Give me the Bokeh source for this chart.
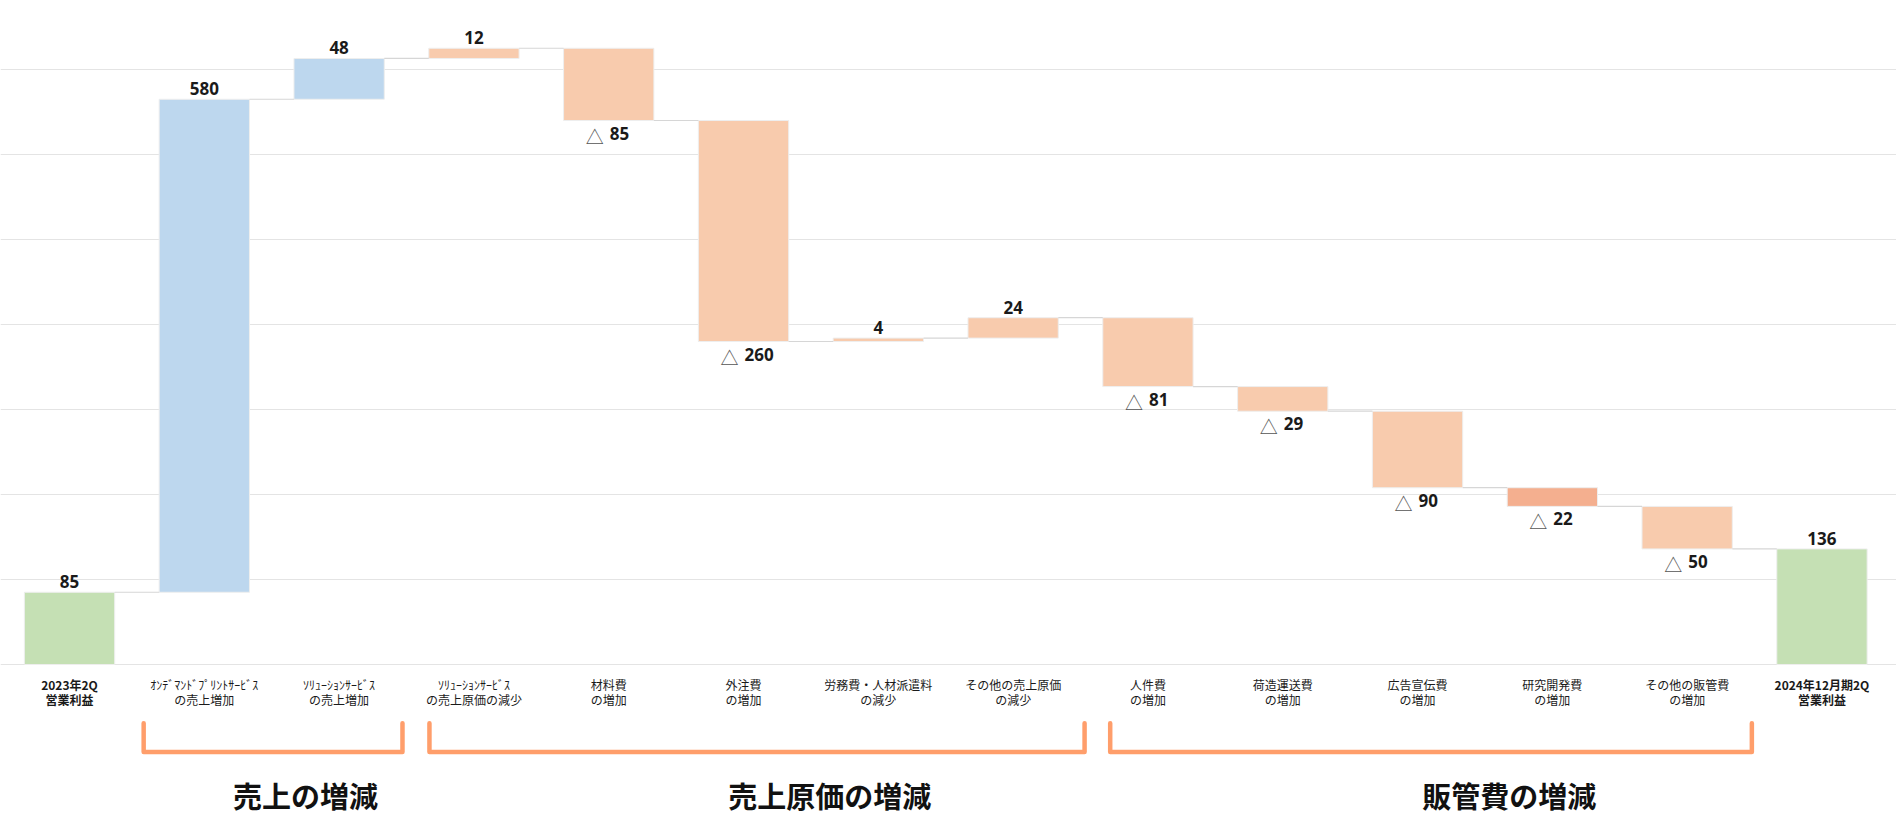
from bokeh.plotting import figure
from bokeh.models import Range1d, FixedTicker, ColumnDataSource
from bokeh.core.properties import value
from bokeh.embed import file_html
from bokeh.resources import INLINE

# ---------------- data ----------------
categories = [
    "2023年2Q\n営業利益",
    "ｵﾝﾃﾞﾏﾝﾄﾞﾌﾟﾘﾝﾄｻｰﾋﾞｽ\nの売上増加",
    "ｿﾘｭｰｼｮﾝｻｰﾋﾞｽ\nの売上増加",
    "ｿﾘｭｰｼｮﾝｻｰﾋﾞｽ\nの売上原価の減少",
    "材料費\nの増加",
    "外注費\nの増加",
    "労務費・人材派遣料\nの減少",
    "その他の売上原価\nの減少",
    "人件費\nの増加",
    "荷造運送費\nの増加",
    "広告宣伝費\nの増加",
    "研究開発費\nの増加",
    "その他の販管費\nの増加",
    "2024年12月期2Q\n営業利益",
]
values = [85, 580, 48, 12, -85, -260, 4, 24, -81, -29, -90, -22, -50, 136]
kinds = ["total", "sales", "sales", "cost", "cost", "cost", "cost", "cost",
         "sga", "sga", "sga", "sga_hl", "sga", "total"]
group_names = ["売上の増減", "売上原価の増減", "販管費の増減"]
group_first = [1, 3, 8]
group_last = [2, 7, 12]
grid_ticks = [0, 100, 200, 300, 400, 500, 600, 700]

# ---------------- styles / layout ----------------
kind_color = {"total": "#C5E0B4", "sales": "#BDD7EE", "cost": "#F8CBAD",
              "sga": "#F8CBAD", "sga_hl": "#F4AF8F"}
bar_w = 0.67
JP = "Noto Sans CJK JP"
NUM = "Noto Sans"
br_start_pad = [-0.45, -0.33, -0.28]
br_end_pad = [0.47, 0.53, 0.48]
label_shift = [0.25, 0.64, 0.68]

# ---------------- waterfall geometry ----------------
n = len(values)
xs = list(range(n))
bottoms, tops, levels = [], [], []
run = 0
for i, v in enumerate(values):
    if kinds[i] == "total":
        b, t = 0, v
        run = v
    else:
        b, t = (run, run + v) if v >= 0 else (run + v, run)
        run += v
    bottoms.append(b)
    tops.append(t)
    levels.append(run)

p = figure(width=1896, height=816,
           x_range=Range1d(-0.512, 13.553), y_range=Range1d(-178.8, 781.2),
           output_backend="svg", toolbar_location=None, min_border=0)
p.xaxis.visible = False
p.yaxis.visible = False
p.xgrid.visible = False
p.ygrid.ticker = FixedTicker(ticks=grid_ticks)
p.ygrid.grid_line_color = "#E4E4E4"
p.ygrid.grid_line_width = 1
p.outline_line_color = None
p.background_fill_color = "white"
p.border_fill_color = "white"

src = ColumnDataSource(dict(
    x=xs, bottom=bottoms, top=tops,
    color=[kind_color[k] for k in kinds],
))
p.vbar(x="x", bottom="bottom", top="top", width=bar_w, fill_color="color",
       line_color="#EEEEEE", line_width=1, source=src)

# connectors
p.segment(x0=[i + bar_w / 2 for i in range(n - 1)], x1=[i + 1 - bar_w / 2 for i in range(n - 1)],
          y0=levels[:-1], y1=levels[:-1], line_color="#D6D6D6", line_width=1.2)

# value labels
pos_idx = [i for i in range(n) if values[i] >= 0]
neg_idx = [i for i in range(n) if values[i] < 0]
p.text(x=pos_idx, y=[tops[i] for i in pos_idx],
       text=[str(values[i]) for i in pos_idx], text_align="center", text_baseline="bottom",
       y_offset=-4, text_font=value(NUM), text_font_style="bold", text_font_size="17px",
       text_color="#1A1A1A")
p.text(x=neg_idx, y=[bottoms[i] for i in neg_idx],
       text=[str(-values[i]) for i in neg_idx], text_align="left", text_baseline="top",
       x_offset=1, y_offset=6, text_font=value(NUM), text_font_style="bold",
       text_font_size="17px", text_color="#1A1A1A")
p.text(x=neg_idx, y=[bottoms[i] for i in neg_idx],
       text=["△"] * len(neg_idx), text_align="right", text_baseline="top",
       x_offset=-5, y_offset=2, text_font=value(JP), text_font_size="18px",
       text_color="#555555")

# category labels
bold_idx = [i for i in range(n) if kinds[i] == "total"]
reg_idx = [i for i in range(n) if kinds[i] != "total"]
p.text(x=reg_idx, y=[0] * len(reg_idx), text=[categories[i] for i in reg_idx],
       text_align="center", text_baseline="top", y_offset=11,
       text_font=value(JP), text_font_size="12px", text_color="#1A1A1A",
       text_line_height=0.9)
p.text(x=bold_idx, y=[0] * len(bold_idx), text=[categories[i] for i in bold_idx],
       text_align="center", text_baseline="top", y_offset=11,
       text_font=value(JP), text_font_style="bold", text_font_size="12px",
       text_color="#1A1A1A", text_line_height=0.9)

# group brackets
br_top, br_bot = -69, -103
bxs, bys = [], []
for f, l, sp, ep in zip(group_first, group_last, br_start_pad, br_end_pad):
    x0, x1 = f + sp, l + ep
    bxs.append([x0, x0, x1, x1])
    bys.append([br_top, br_bot, br_bot, br_top])
p.multi_line(xs=bxs, ys=bys, line_color="#FF9E6B", line_width=4.5, line_join="round",
             line_cap="round")

p.text(x=[(f + l) / 2 + s for f, l, s in zip(group_first, group_last, label_shift)],
       y=[-154] * 3, text=group_names, text_align="center", text_baseline="middle",
       text_font=value(JP), text_font_style="bold", text_font_size="29px",
       text_color="#111111")

open("out.html", "w").write(file_html(p, INLINE))
